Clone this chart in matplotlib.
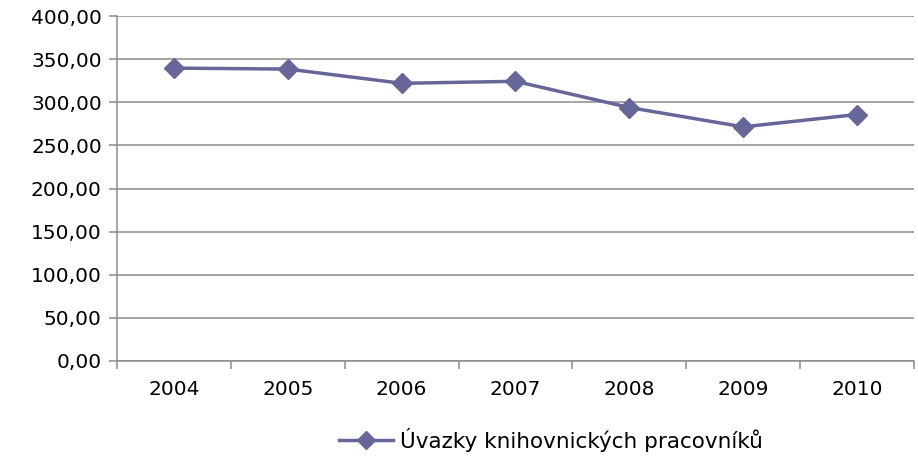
import matplotlib
matplotlib.use("Agg")
import matplotlib.pyplot as plt
from matplotlib.ticker import FixedLocator, NullFormatter

roky = ["2004", "2005", "2006", "2007", "2008", "2009", "2010"]
uvazky = [339.6, 338.5, 322.0, 324.3, 293.9, 271.5, 285.8]
y_ticks = [0, 50, 100, 150, 200, 250, 300, 350, 400]

barva = "#666699"
seda = "#8c8c8c"

plt.rcParams["font.family"] = ["DejaVu Sans"]

fig = plt.figure(figsize=(9.18, 4.58), dpi=100)
ax = fig.add_axes([0.1275, 0.2118, 0.868, 0.7532])

x = list(range(len(roky)))
ax.plot(x, uvazky, color=barva, linewidth=2.5, marker="D", markersize=10,
        label="Úvazky knihovnických pracovníků")

ax.set_xlim(-0.5, len(roky) - 0.5)
ax.set_ylim(0, 400)

ax.set_yticks(y_ticks)
ax.set_yticklabels([f"{v:.2f}".replace(".", ",") for v in y_ticks], fontsize=14.5)
ax.yaxis.grid(True, color=seda, linewidth=1.1)
ax.set_axisbelow(True)

ax.xaxis.set_major_locator(FixedLocator([i - 0.5 for i in range(len(roky) + 1)]))
ax.xaxis.set_major_formatter(NullFormatter())
ax.xaxis.set_minor_locator(FixedLocator(x))
ax.set_xticklabels(roky, minor=True, fontsize=14.5)
ax.tick_params(axis="x", which="minor", length=0, pad=14)
ax.tick_params(axis="x", which="major", direction="out", length=6, color=seda, width=1.1)
ax.tick_params(axis="y", direction="out", length=6, color=seda, width=1.1, pad=5)

for s in ["top", "right"]:
    ax.spines[s].set_visible(False)
for s in ["left", "bottom"]:
    ax.spines[s].set_color(seda)
    ax.spines[s].set_linewidth(1.1)

fig.legend(loc="center", bbox_to_anchor=(0.6, 0.04), frameon=False, fontsize=15.5,
           handlelength=2.5, handletextpad=0.3, markerscale=0.9)

fig.savefig("out.png", dpi=100)
